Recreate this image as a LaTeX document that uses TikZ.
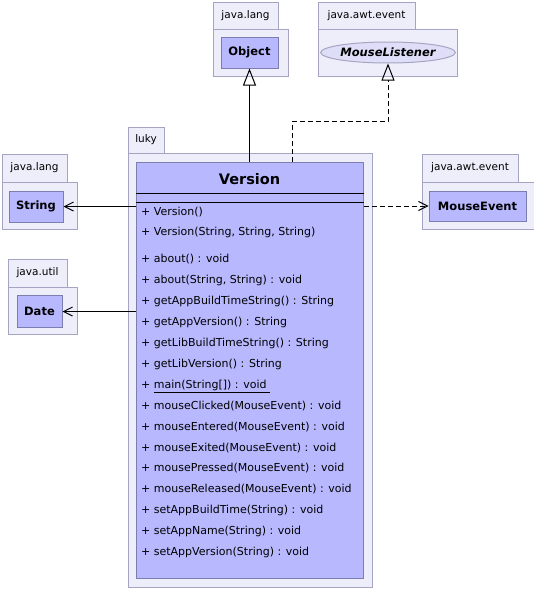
\documentclass[tikz,border=0pt]{standalone}
\usepackage{fontspec}
\setmainfont{DejaVu Sans}
\usepackage{xcolor}
\usepackage{tikz}
\usetikzlibrary{calc}
\usetikzlibrary{arrows.meta,shapes.geometric}

\definecolor{pkgfill}{RGB}{238,238,251}
\definecolor{pkgline}{RGB}{165,165,195}
\definecolor{clsfill}{RGB}{184,184,255}
\definecolor{clsline}{RGB}{125,125,175}
\definecolor{itffill}{RGB}{222,222,248}

\begin{document}
\begin{tikzpicture}[x=1pt,y=-1pt,
    paket/.style={draw=pkgline,fill=pkgfill,line width=1pt},
    labelpaket/.style={inner sep=0pt,font=\fontsize{10.5}{12}\selectfont},
    kelas/.style={draw=clsline,fill=clsfill,line width=1pt,inner sep=0pt,font=\fontsize{11.5}{13}\selectfont\bfseries},
    operasi/.style={anchor=west,inner sep=0pt,text height=8pt,text depth=2.5pt,font=\fontsize{11}{13}\selectfont},
    garis/.style={line width=1pt},
    putus/.style={line width=1pt,dash pattern=on 5pt off 3pt},
    warisan/.style={-{Triangle[open,length=17pt,width=13pt]}},
    pakai/.style={-{Straight Barb[length=9pt,width=9pt]}}]
    %BATAS
    \useasboundingbox (0,0) rectangle (534,589);
    %PAKET JAVA.LANG (OBJECT)
    \draw[paket] (213,2) rectangle (278,29);
    \draw[paket] (213,29) rectangle (288,76);
    \node[labelpaket] (pkgobject) at (245.5,15.5) {java.lang};
    \node[kelas,minimum width=57,minimum height=31] (object) at (249.5,52.5) {Object};
    %PAKET JAVA.AWT.EVENT (LISTENER)
    \draw[paket] (318,2) rectangle (415,29);
    \draw[paket] (318,29) rectangle (457,76);
    \node[labelpaket] (pkglistener) at (366.5,15.5) {java.awt.event};
    \node[ellipse,draw=pkgline,fill=itffill,line width=1pt,inner sep=0pt,minimum width=123,minimum height=21,
          font=\fontsize{11.5}{13}\selectfont\bfseries\itshape] (listener) at (388,52.5) {MouseListener};
    %PAKET JAVA.LANG (STRING)
    \draw[paket] (2,154) rectangle (67,182);
    \draw[paket] (2,182) rectangle (77,229);
    \node[labelpaket] (pkgstring) at (34.5,168) {java.lang};
    \node[kelas,minimum width=54,minimum height=31] (string) at (36,206.5) {String};
    %PAKET JAVA.UTIL
    \draw[paket] (8,259) rectangle (67,287);
    \draw[paket] (8,287) rectangle (77,334);
    \node[labelpaket] (pkgdate) at (37.5,273) {java.util};
    \node[kelas,minimum width=45,minimum height=32] (date) at (39.5,311.5) {Date};
    %PAKET JAVA.AWT.EVENT (EVENT)
    \draw[paket] (422,154) rectangle (518,182);
    \draw[paket] (422,182) rectangle (534,229);
    \node[labelpaket] (pkgevent) at (470,168) {java.awt.event};
    \node[kelas,minimum width=97,minimum height=30] (event) at (477.5,206) {MouseEvent};
    %PAKET LUKY
    \draw[paket] (128,127) rectangle (164,153);
    \draw[paket] (128,153) rectangle (372,587);
    \node[labelpaket] (pkgluky) at (146,140) {luky};
    %KELAS VERSION
    \node[kelas,minimum width=227,minimum height=416] (version) at (249.5,370) {};
    \node[font=\fontsize{14.5}{16}\selectfont\bfseries] (judul) at (249.5,179.5) {Version};
    \draw[garis] ($(version.north west)+(0,32)$) -- ($(version.north east)+(0,32)$);
    \draw[garis] ($(version.north west)+(0,41)$) -- ($(version.north east)+(0,41)$);
    %OPERASI
    \foreach \y/\teks [count=\i] in {213/{+ Version()},
        233/{+ Version(String, String, String)},
        260/{+ about() : void},
        281/{+ about(String, String) : void},
        302/{+ getAppBuildTimeString() : String},
        323/{+ getAppVersion() : String},
        344/{+ getLibBuildTimeString() : String},
        365/{+ getLibVersion() : String},
        386/{+ \underline{main(String[]) : void\ }},
        407/{+ mouseClicked(MouseEvent) : void},
        428/{+ mouseEntered(MouseEvent) : void},
        449/{+ mouseExited(MouseEvent) : void},
        469/{+ mousePressed(MouseEvent) : void},
        490/{+ mouseReleased(MouseEvent) : void},
        511/{+ setAppBuildTime(String) : void},
        532/{+ setAppName(String) : void},
        553/{+ setAppVersion(String) : void}}
        \node[operasi] (op\i) at (141,\y) {\teks};
    %PANAH
    \coordinate (tekuk) at (292,121);
    \draw[garis,warisan] (version.north) -- (object.south);
    \draw[putus,warisan] (version.north -| tekuk) -- (tekuk) -| (listener.south);
    \draw[garis,pakai] (version.west |- string.east) -- (string.east);
    \draw[garis,pakai] (version.west |- date.east) -- (date.east);
    \draw[putus,pakai] (version.east |- event.west) -- (event.west);
\end{tikzpicture}
\end{document}
